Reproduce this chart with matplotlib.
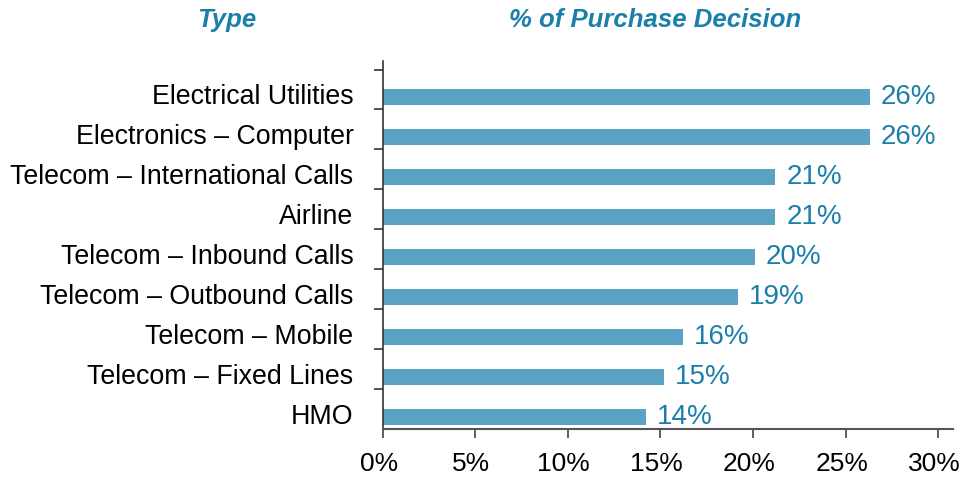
import matplotlib
matplotlib.use("Agg")
import matplotlib.pyplot as plt
import matplotlib.transforms as mtransforms
import numpy as np

plt.rcParams['font.family'] = ['Liberation Sans', 'DejaVu Sans']

# categories listed from bottom to top
categories = ["HMO", "Telecom \u2013 Fixed Lines", "Telecom \u2013 Mobile",
              "Telecom \u2013 Outbound Calls", "Telecom \u2013 Inbound Calls",
              "Airline", "Telecom \u2013 International Calls",
              "Electronics \u2013 Computer", "Electrical Utilities"]
values = [14.2, 15.2, 16.2, 19.2, 20.1, 21.2, 21.2, 26.3, 26.3]
value_labels = ["14%", "15%", "16%", "19%", "20%", "21%", "21%", "26%", "26%"]
xticks = [0, 5, 10, 15, 20, 25, 30]

bar_color = "#5aa3c5"
text_blue = "#1b7fab"

fig = plt.figure(figsize=(9.62, 4.8), dpi=100)
ax = fig.add_axes([0.3978, 0.1056, 0.9906 - 0.3978, 0.8735 - 0.1056])

y = np.arange(len(categories))
ax.barh(y, values, height=0.42, color=bar_color)

for yi, v, lab in zip(y, values, value_labels):
    ax.annotate(lab, (v, yi), xytext=(8, 0), textcoords="offset points",
                va="center", ha="left", fontsize=20, color=text_blue)

ax.set_xlim(0, 30.8)
ax.set_ylim(-0.31, 8.91)

ax.set_xticks(xticks)
ax.set_xticklabels([f"{t}%" for t in xticks], fontsize=19)
ax.tick_params(axis="x", direction="out", length=6.5, width=1.2, color="#444444", pad=10)
# the reference sets the x labels a touch left of their ticks
xshift = mtransforms.ScaledTranslation(-4 / 100, 0, fig.dpi_scale_trans)
for lbl in ax.get_xticklabels():
    lbl.set_transform(lbl.get_transform() + xshift)

ax.set_yticks(y)
ax.set_yticklabels(categories, fontsize=19.3)
ax.tick_params(axis="y", which="major", length=0, pad=21)
# nudge category labels up a little, as in the reference
shift = mtransforms.ScaledTranslation(0, 3 / 100, fig.dpi_scale_trans)
for lbl in ax.get_yticklabels():
    lbl.set_transform(lbl.get_transform() + shift)
ax.set_yticks(y + 0.69, minor=True)
ax.tick_params(axis="y", which="minor", direction="out", length=6.5, width=1.2, color="#333333")

for s in ["top", "right"]:
    ax.spines[s].set_visible(False)
ax.spines["left"].set_color("#333333")
ax.spines["left"].set_linewidth(1.2)
ax.spines["bottom"].set_color("#555555")
ax.spines["bottom"].set_linewidth(1.5)

fig.text(227 / 962, 1 - 20 / 480, "Type", ha="center", va="center",
         fontsize=18.5, fontweight="bold", fontstyle="italic", color=text_blue)
fig.text(655 / 962, 1 - 20 / 480, "% of Purchase Decision", ha="center", va="center",
         fontsize=18.5, fontweight="bold", fontstyle="italic", color=text_blue)

fig.savefig("out.png", dpi=100)
